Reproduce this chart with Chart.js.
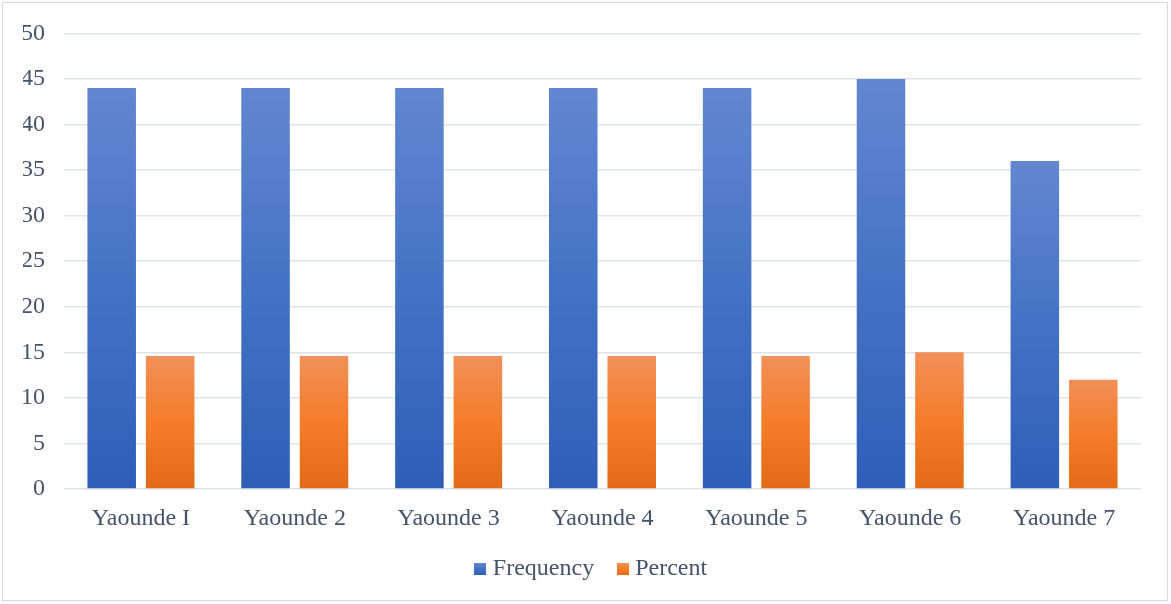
<!DOCTYPE html>
<html>
<head>
<meta charset="utf-8">
<script src="https://cdn.jsdelivr.net/npm/chart.js@4"></script>
<style>
  html, body { margin: 0; padding: 0; background: #ffffff; width: 1171px; height: 604px; overflow: hidden; }
  #frame { position: absolute; left: 2px; top: 2px; width: 1166px; height: 599px; border: 1px solid #d9d9d9; box-sizing: border-box; }
  #wrap { position: absolute; left: 0; top: 0; width: 1171px; height: 604px; }
</style>
</head>
<body>
<div id="frame"></div>
<div id="wrap"><canvas id="c"></canvas></div>
<script>
const categories = ['Yaounde I', 'Yaounde 2', 'Yaounde 3', 'Yaounde 4', 'Yaounde 5', 'Yaounde 6', 'Yaounde 7'];
const frequency = [44, 44, 44, 44, 44, 45, 36];
const percent = [14.6, 14.6, 14.6, 14.6, 14.6, 15.0, 12.0];
const yTicks = { min: 0, max: 50, step: 5 };

const blueStops = ['#6287d0', '#4472c4', '#2e5eb7'];
const orangeStops = ['#f19058', '#f47d2a', '#e36a17'];

function barGradient(stops) {
  return function (ctx) {
    const chart = ctx.chart;
    if (ctx.type !== 'data' || !chart.chartArea) return stops[1];
    const y = chart.scales.y;
    const top = y.getPixelForValue(ctx.raw);
    const bot = y.getPixelForValue(0);
    if (!isFinite(top) || !isFinite(bot) || top === bot) return stops[1];
    const g = chart.ctx.createLinearGradient(0, top, 0, bot);
    g.addColorStop(0, stops[0]);
    g.addColorStop(0.5, stops[1]);
    g.addColorStop(1, stops[2]);
    return g;
  };
}

function legendSwatch(stops) {
  const c = document.createElement('canvas');
  c.width = 12; c.height = 12;
  const x = c.getContext('2d');
  const g = x.createLinearGradient(0, 0, 0, 12);
  g.addColorStop(0, stops[0]);
  g.addColorStop(0.5, stops[1]);
  g.addColorStop(1, stops[2]);
  x.fillStyle = g;
  x.fillRect(0, 0, 12, 12);
  return c;
}
const swatches = [legendSwatch(blueStops), legendSwatch(orangeStops)];

const textColor = '#44546a';
const fontFamily = "'Liberation Serif', 'Times New Roman', serif";

new Chart(document.getElementById('c'), {
  type: 'bar',
  data: {
    labels: categories,
    datasets: [
      { label: 'Frequency', data: frequency, backgroundColor: barGradient(blueStops), borderWidth: 0,
        categoryPercentage: 0.76, barPercentage: 0.83 },
      { label: 'Percent', data: percent, backgroundColor: barGradient(orangeStops), borderWidth: 0,
        categoryPercentage: 0.76, barPercentage: 0.83 }
    ]
  },
  options: {
    responsive: true,
    maintainAspectRatio: false,
    animation: false,
    layout: { padding: { left: 23, right: 7, top: 31.5, bottom: 13 } },
    plugins: {
      legend: {
        position: 'bottom',
        labels: {
          usePointStyle: true,
          boxWidth: 1, boxHeight: 12, padding: 28,
          color: textColor,
          font: { family: fontFamily, size: 24 },
          generateLabels: (chart) => {
            const items = Chart.defaults.plugins.legend.labels.generateLabels(chart);
            items.forEach((it, i) => { it.pointStyle = swatches[i]; it.lineWidth = 0; });
            return items;
          }
        }
      },
      tooltip: { enabled: false }
    },
    scales: {
      x: {
        grid: { display: false, drawTicks: false },
        border: { display: false },
        ticks: { color: textColor, font: { family: fontFamily, size: 24 }, padding: 15, maxRotation: 0 },
        afterFit: (s) => { s.height = 40; }
      },
      y: {
        min: yTicks.min, max: yTicks.max,
        grid: { color: '#dfe3e8', lineWidth: 1.5, drawTicks: false },
        border: { display: false },
        ticks: { stepSize: yTicks.step, color: textColor, font: { family: fontFamily, size: 24 }, padding: 19 },
        afterFit: (s) => { s.width = 41; }
      },
      yRight: {
        type: 'linear',
        position: 'right',
        display: true,
        grid: { display: false, drawTicks: false },
        border: { display: false },
        ticks: { display: false },
        afterFit: (s) => { s.width = 23; }
      }
    }
  }
});
</script>
</body>
</html>
